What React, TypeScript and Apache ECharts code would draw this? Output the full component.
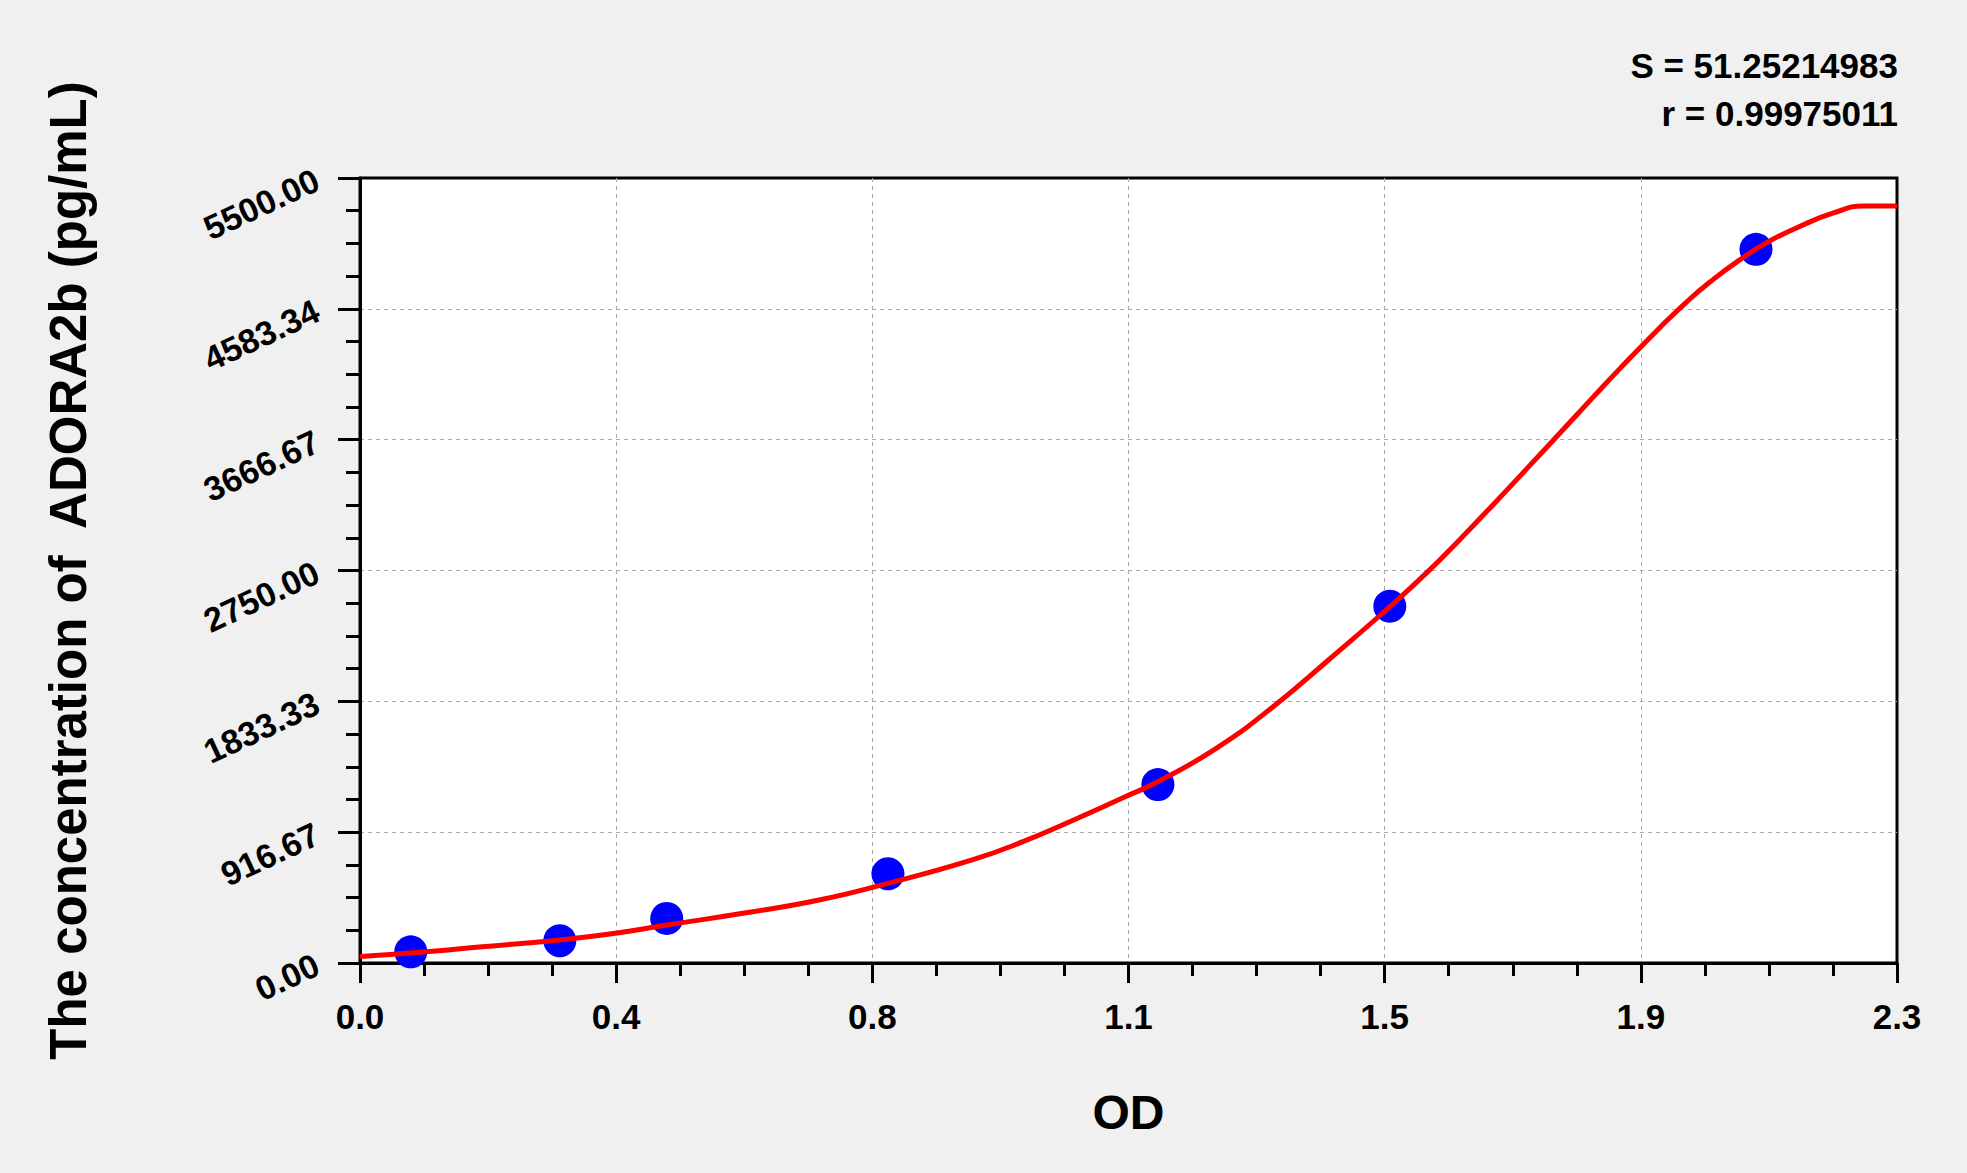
import React, { useEffect, useRef } from "react";
import * as echarts from "echarts";

// standard points (OD, concentration)
const standardOD = [0.076, 0.299, 0.459, 0.79, 1.194, 1.541, 2.089];
const standardConc = [78.13, 156.25, 312.5, 625, 1250, 2500, 5000];

// fitted curve
const curveOD = [
  0, 0.099, 0.183, 0.299, 0.382, 0.459, 0.573, 0.687, 0.79, 0.916, 0.992, 1.068,
  1.145, 1.193, 1.279, 1.365, 1.451, 1.541, 1.596, 1.646, 1.696, 1.751, 1.796,
  1.846, 1.886, 1.945, 1.985, 2.02, 2.063, 2.105, 2.155, 2.205, 2.25, 2.3,
];
const curveConc = [
  45, 79, 114, 161, 208, 266, 348, 441, 558, 722, 850, 1002, 1165, 1268, 1497,
  1790, 2130, 2496, 2733, 2968, 3213, 3488, 3715, 3968, 4168, 4451, 4631, 4771,
  4921, 5047, 5162, 5255, 5304, 5304,
];

const xTickLabels = ["0.0", "0.4", "0.8", "1.1", "1.5", "1.9", "2.3"];
const yTickLabels = ["0.00", "916.67", "1833.33", "2750.00", "3666.67", "4583.34", "5500.00"];
const xMax = 2.3;
const yMax = 5500;

const statLines = ["S = 51.25214983", "r = 0.99975011"];

const FONT = '"Liberation Sans", Arial, sans-serif';

const App: React.FC = () => {
  const chartRef = useRef<HTMLDivElement>(null);

  useEffect(() => {
    document.body.style.margin = "0";
    const chart = echarts.init(chartRef.current, null, { renderer: "svg" });
    const xInterval = xMax / (xTickLabels.length - 1);
    const yInterval = yMax / (yTickLabels.length - 1);

    const tickStyle = { color: "#000", width: 3 };
    const gridLine = {
      show: true,
      showMinLine: false,
      showMaxLine: false,
      lineStyle: { color: "#a8a8a8", width: 1, type: [4, 4] },
    };

    const options = {
      animation: false,
      backgroundColor: "#f0f0f0",
      grid: {
        left: 360,
        right: 70,
        top: 178,
        bottom: 210,
        show: true,
        backgroundColor: "#ffffff",
        borderColor: "#000",
        borderWidth: 3,
      },
      graphic: statLines.map((t, i) => ({
        type: "text",
        x: 1898,
        y: 65 + i * 48,
        z: 10,
        style: {
          text: t,
          align: "right",
          verticalAlign: "middle",
          fontSize: 35,
          fontWeight: "bold",
          fontFamily: FONT,
          fill: "#000",
        },
      })),
      xAxis: {
        type: "value",
        min: 0,
        max: xMax,
        interval: xInterval,
        name: "OD",
        nameLocation: "middle",
        nameGap: 125,
        nameTextStyle: { fontSize: 48, fontWeight: "bold", color: "#000", fontFamily: FONT },
        axisLine: { show: true, lineStyle: tickStyle },
        axisTick: { show: true, length: 20, lineStyle: tickStyle },
        minorTick: { show: true, splitNumber: 4, length: 13, lineStyle: tickStyle },
        splitLine: gridLine,
        axisLabel: {
          fontSize: 35,
          fontWeight: "bold",
          color: "#000",
          fontFamily: FONT,
          margin: 36,
          formatter: (v: number) => xTickLabels[Math.round(v / xInterval)] ?? "",
        },
      },
      yAxis: {
        type: "value",
        min: 0,
        max: yMax,
        interval: yInterval,
        name: "The concentration of  ADORA2b (pg/mL)",
        nameLocation: "middle",
        nameRotate: 90,
        nameGap: 266,
        nameTextStyle: { fontSize: 51, fontWeight: "bold", color: "#000", fontFamily: FONT },
        axisLine: { show: true, lineStyle: tickStyle },
        axisTick: { show: true, length: 22, lineStyle: tickStyle },
        minorTick: { show: true, splitNumber: 4, length: 14, lineStyle: tickStyle },
        splitLine: gridLine,
        axisLabel: {
          fontSize: 34,
          fontWeight: "bold",
          color: "#000",
          fontFamily: FONT,
          rotate: 25,
          margin: 43,
          formatter: (v: number) => yTickLabels[Math.round(v / yInterval)] ?? "",
        },
      },
      series: [
        {
          type: "scatter",
          symbol: "circle",
          symbolSize: 33,
          itemStyle: { color: "#0000ff", opacity: 1 },
          data: standardOD.map((x, i) => [x, standardConc[i]]),
          z: 2,
        },
        {
          type: "line",
          showSymbol: false,
          smooth: 0.5,
          lineStyle: { color: "#ff0000", width: 5 },
          data: curveOD.map((x, i) => [x, curveConc[i]]),
          z: 3,
        },
      ],
    };

    chart.setOption(options);
    return () => {
      chart.dispose();
    };
  }, []);

  return <div ref={chartRef} style={{ width: 1967, height: 1173 }}></div>;
};

export default App;
